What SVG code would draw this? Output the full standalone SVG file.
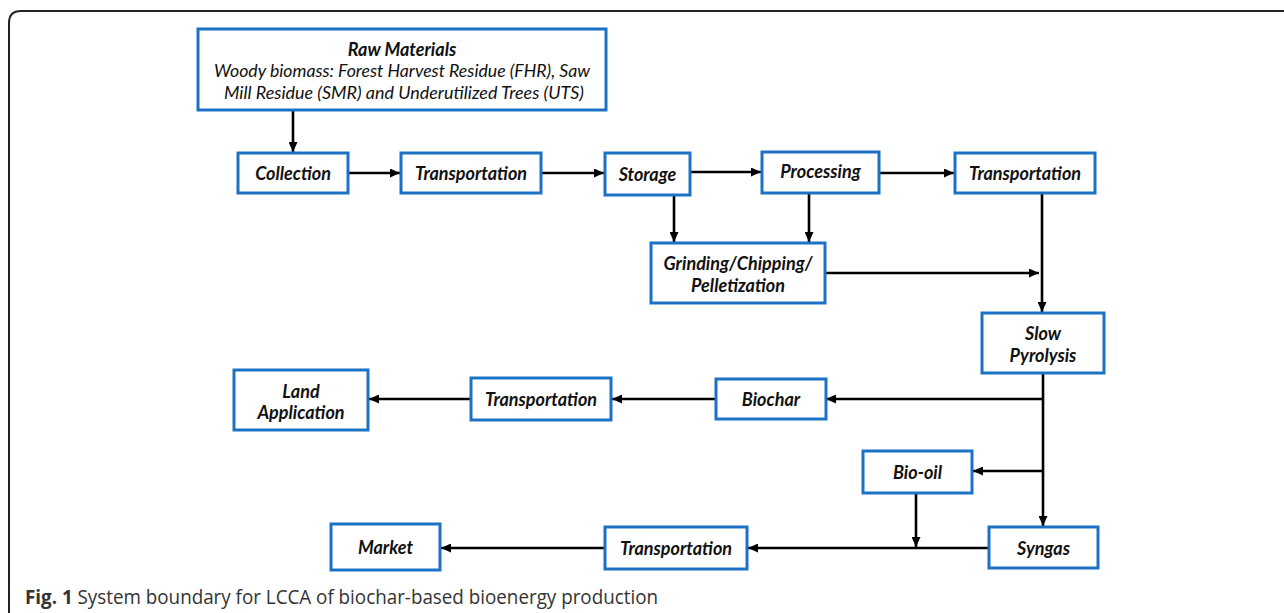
<svg xmlns="http://www.w3.org/2000/svg" width="1284" height="613" viewBox="0 0 1284 613">
<style>
.box{fill:#fff;stroke:#1b72c4;stroke-width:3}
.t{font-family:Lato,"Liberation Sans",sans-serif;font-weight:bold;font-style:italic;font-size:18px;fill:#111;text-anchor:middle;dominant-baseline:central}
.ti{font-family:Lato,"Liberation Sans",sans-serif;font-style:italic;font-size:18px;fill:#111;text-anchor:middle;dominant-baseline:central}
.c{stroke:#000;stroke-width:2.6;fill:none}
.cap{font-family:"Open Sans","Noto Sans",sans-serif;font-size:20px;fill:#333}
</style>
<defs>
<marker id="ah" markerUnits="userSpaceOnUse" markerWidth="11" markerHeight="9" refX="10" refY="4.5" orient="auto">
<path d="M0,0 L10,4.5 L0,9 z" fill="#000"/>
</marker>
</defs>
<rect width="1284" height="613" fill="#fff"/>
<path d="M9,613 V23 Q9,11 21,11 H1284" fill="none" stroke="#222" stroke-width="2"/>

<g id="connectors">
<line class="c" x1="293" y1="110" x2="293" y2="152" marker-end="url(#ah)"/>
<line class="c" x1="348" y1="173" x2="400" y2="173" marker-end="url(#ah)"/>
<line class="c" x1="541" y1="173" x2="604" y2="173" marker-end="url(#ah)"/>
<line class="c" x1="690" y1="172" x2="761" y2="172" marker-end="url(#ah)"/>
<line class="c" x1="879" y1="173" x2="954" y2="173" marker-end="url(#ah)"/>
<line class="c" x1="674" y1="195" x2="674" y2="242" marker-end="url(#ah)"/>
<line class="c" x1="809" y1="193" x2="809" y2="242" marker-end="url(#ah)"/>
<line class="c" x1="825" y1="273" x2="1039" y2="273" marker-end="url(#ah)"/>
<line class="c" x1="1042" y1="193" x2="1042" y2="312" marker-end="url(#ah)"/>
<line class="c" x1="1043" y1="373" x2="1043" y2="526" marker-end="url(#ah)"/>
<line class="c" x1="1043" y1="399" x2="826" y2="399" marker-end="url(#ah)"/>
<line class="c" x1="716" y1="399" x2="612" y2="399" marker-end="url(#ah)"/>
<line class="c" x1="471" y1="399" x2="369" y2="399" marker-end="url(#ah)"/>
<line class="c" x1="1043" y1="471" x2="973" y2="471" marker-end="url(#ah)"/>
<line class="c" x1="916" y1="493" x2="916" y2="547" marker-end="url(#ah)"/>
<line class="c" x1="989" y1="548" x2="748" y2="548" marker-end="url(#ah)"/>
<line class="c" x1="605" y1="548" x2="441" y2="548" marker-end="url(#ah)"/>
</g>

<g id="raw">
<rect class="box" x="198" y="29" width="408" height="81"/>
<text class="t" x="402" y="49">Raw Materials</text>
<text class="ti" x="402" y="70" textLength="376" lengthAdjust="spacingAndGlyphs">Woody biomass: Forest Harvest Residue (FHR), Saw</text>
<text class="ti" x="404" y="92" textLength="360" lengthAdjust="spacingAndGlyphs">Mill Residue (SMR) and Underutilized Trees (UTS)</text>
</g>
<g id="collection">
<rect class="box" x="238" y="153" width="110" height="40"/>
<text class="t" x="293" y="173">Collection</text>
</g>
<g id="transport1">
<rect class="box" x="401" y="153" width="140" height="40"/>
<text class="t" x="471" y="173">Transportation</text>
</g>
<g id="storage">
<rect class="box" x="605" y="153" width="85" height="42"/>
<text class="t" x="647.5" y="174">Storage</text>
</g>
<g id="processing">
<rect class="box" x="762" y="152" width="117" height="41"/>
<text class="t" x="820.5" y="171">Processing</text>
</g>
<g id="transport2">
<rect class="box" x="955" y="153" width="140" height="40"/>
<text class="t" x="1025" y="173">Transportation</text>
</g>
<g id="grinding">
<rect class="box" x="651" y="243" width="174" height="60"/>
<text class="t" x="738" y="263">Grinding/Chipping/</text>
<text class="t" x="738" y="285">Pelletization</text>
</g>
<g id="pyrolysis">
<rect class="box" x="982" y="313" width="122" height="60"/>
<text class="t" x="1043" y="333">Slow</text>
<text class="t" x="1043" y="355">Pyrolysis</text>
</g>
<g id="biochar">
<rect class="box" x="716" y="379" width="110" height="40"/>
<text class="t" x="771" y="399">Biochar</text>
</g>
<g id="transport3">
<rect class="box" x="471" y="378" width="140" height="42"/>
<text class="t" x="541" y="399">Transportation</text>
</g>
<g id="land">
<rect class="box" x="234" y="370" width="134" height="60"/>
<text class="t" x="301" y="391">Land</text>
<text class="t" x="301" y="412">Application</text>
</g>
<g id="biooil">
<rect class="box" x="863" y="451" width="109" height="42"/>
<text class="t" x="917.5" y="472">Bio-oil</text>
</g>
<g id="syngas">
<rect class="box" x="989" y="527" width="109" height="41"/>
<text class="t" x="1043.5" y="548">Syngas</text>
</g>
<g id="transport4">
<rect class="box" x="605" y="527" width="142" height="42"/>
<text class="t" x="676" y="548">Transportation</text>
</g>
<g id="market">
<rect class="box" x="331" y="524" width="109" height="46"/>
<text class="t" x="385.5" y="547">Market</text>
</g>
<text class="cap" x="25" y="604" textLength="633" lengthAdjust="spacingAndGlyphs"><tspan font-weight="bold">Fig. 1</tspan> System boundary for LCCA of biochar-based bioenergy production</text>
</svg>
